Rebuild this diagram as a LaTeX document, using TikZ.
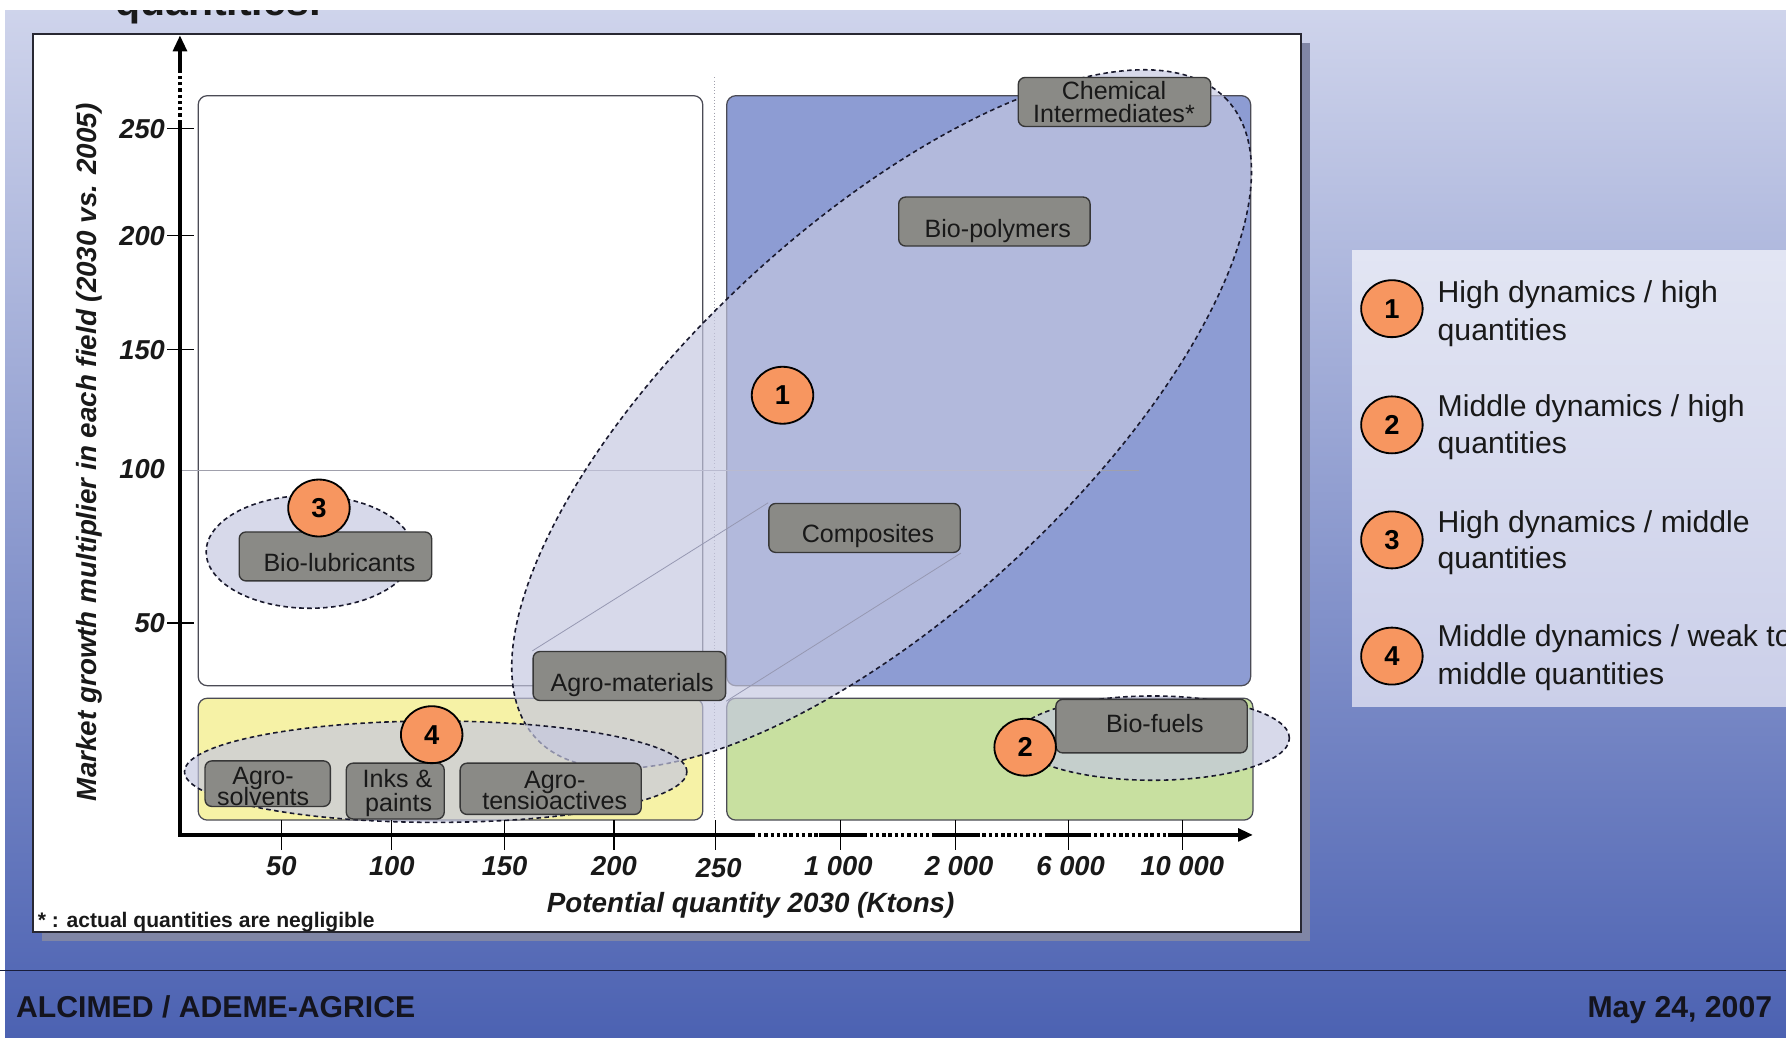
\documentclass[tikz,border=0pt]{standalone}
\usepackage{fontspec}
\setmainfont{Liberation Sans}
\usetikzlibrary{shapes.geometric,arrows.meta,calc}
\definecolor{bgtop}{RGB}{208,213,236}
\definecolor{bgmid}{RGB}{140,154,210}
\definecolor{bgbot}{RGB}{76,98,178}
\definecolor{shadowc}{RGB}{128,134,166}
\definecolor{panelborder}{RGB}{40,40,50}
\definecolor{qblue}{RGB}{141,156,211}
\definecolor{qyellow}{RGB}{246,242,166}
\definecolor{qgreen}{RGB}{200,224,160}
\definecolor{quadline}{RGB}{75,75,85}
\definecolor{gridc}{RGB}{160,160,172}
\definecolor{zonefill}{RGB}{197,199,225}
\definecolor{zoneline}{RGB}{25,25,45}
\definecolor{diagc}{RGB}{150,152,178}
\definecolor{lboxfill}{RGB}{138,138,134}
\definecolor{lboxline}{RGB}{55,55,55}
\definecolor{txtdark}{RGB}{25,25,25}
\definecolor{orangec}{RGB}{247,150,96}
\definecolor{legtop}{RGB}{226,229,243}
\definecolor{legbot}{RGB}{203,207,233}
\definecolor{footc}{RGB}{20,20,30}
\definecolor{footline}{RGB}{25,30,60}
\begin{document}
\begin{tikzpicture}[x=1pt,y=-1pt,
  quad/.style={draw=quadline, line width=1.1pt, rounded corners=8pt},
  zone/.style={ellipse, draw=zoneline, line width=1.4pt, dash pattern=on 4pt off 3pt, fill=zonefill, fill opacity=0.68, inner sep=0pt},
  lbox/.style={draw=lboxline, fill=lboxfill, line width=1.2pt, rounded corners=6pt, inner sep=0pt},
  ltext/.style={font=\fontsize{22}{20}\selectfont, text=txtdark, inner sep=0pt, anchor=base},
  num/.style={ellipse, draw=black, line width=1.6pt, fill=orangec, minimum width=54pt, minimum height=50pt, inner sep=0pt, font=\bfseries\fontsize{24}{24}\selectfont},
  legtext/.style={font=\fontsize{26.5}{30}\selectfont, text=txtdark, inner sep=0pt, anchor=base west},
  axis/.style={line width=3.2pt, black},
  axisdot/.style={line width=3pt, black, dash pattern=on 3pt off 2.5pt},
  tick/.style={line width=1pt, black},
  axnum/.style={font=\bfseries\itshape\fontsize{24}{24}\selectfont, inner sep=0pt, text=txtdark},
  axlab/.style={font=\bfseries\itshape\fontsize{24.4}{26}\selectfont, inner sep=0pt, text=txtdark}
]
\useasboundingbox (0,0) rectangle (1568,911);
\clip (0,0) rectangle (1568,911);
% background
\shade[top color=bgtop, middle color=bgmid, bottom color=bgbot] (0,0) rectangle (1568,911);
% title fragment
\begin{scope}
  \clip (0,0) rectangle (1568,30);
  \node[anchor=base west, inner sep=0pt, font=\bfseries\fontsize{36}{40}\selectfont, text=txtdark] (title) at (101,14) {quantities:};
\end{scope}
\fill[white] (0,0) rectangle (1568,9);
\fill[white] (0,0) rectangle (4,911);
% panel
\fill[shadowc] (37,38) rectangle (1150,826);
\draw[panelborder, fill=white, line width=1.5pt] (29,30) rectangle (1142,818);
% quadrants
\draw[quad, fill=white] (174,84) rectangle (617,602);
\draw[quad, fill=qblue] (638,84) rectangle (1098,602);
\draw[quad, fill=qyellow] (174,613) rectangle (617,720);
\draw[quad, fill=qgreen] (638,613) rectangle (1100,720);
% grid lines
\draw[gridc, line width=0.7pt] (158,413) -- (1000,413);
\draw[gridc, line width=0.8pt, dotted] (627,68) -- (627,720);
% zones
\node[zone, minimum width=826pt, minimum height=340pt, rotate=42.7] (z1) at (774,368) {};
\node[zone, minimum width=182pt, minimum height=99pt] (z3) at (272,484.5) {};
\node[zone, minimum width=441pt, minimum height=89pt] (z4) at (382.5,677.5) {};
\node[zone, minimum width=240pt, minimum height=74pt] (z2) at (1012,648) {};
% label boxes
\node[lbox, minimum width=169pt, minimum height=43pt] (chem) at (978.5,89.5) {};
\node[lbox, minimum width=168pt, minimum height=43pt] (biopoly) at (873,194.5) {};
\node[lbox, minimum width=168pt, minimum height=43pt] (comp) at (759,463.5) {};
\node[lbox, minimum width=169pt, minimum height=43pt] (agro) at (552.5,593.5) {};
\node[lbox, minimum width=169pt, minimum height=43pt] (biolub) at (294.5,488.5) {};
\node[lbox, minimum width=168pt, minimum height=47pt] (biofuel) at (1011,637.5) {};
\node[lbox, minimum width=110pt, minimum height=40pt] (agrosolv) at (235,688) {};
\node[lbox, minimum width=86pt, minimum height=49pt] (inks) at (347,694.5) {};
\node[lbox, minimum width=159pt, minimum height=45pt] (tensio) at (483.5,692.5) {};
% thin links
\draw[diagc, line width=0.7pt] (agro.north west) -- (comp.north west);
\draw[diagc, line width=0.7pt] (agro.south east) -- (comp.south east);
% label texts
\node[ltext] (chem-t1) at (978,87.5) {Chemical};
\node[ltext] (chem-t2) at (978,107.5) {Intermediates*};
\node[ltext] (biopoly-t) at (876,208.5) {Bio-polymers};
\node[ltext] (comp-t) at (762,476.5) {Composites};
\node[ltext] (agro-t) at (555,607.5) {Agro-materials};
\node[ltext] (biolub-t) at (298,501.5) {Bio-lubricants};
\node[ltext] (biofuel-t) at (1014,643.5) {Bio-fuels};
\node[ltext] (agrosolv-t1) at (231,688.5) {Agro-};
\node[ltext] (agrosolv-t2) at (231,707.5) {solvents};
\node[ltext] (inks-t1) at (349,691.5) {Inks \&};
\node[ltext] (inks-t2) at (350,712.5) {paints};
\node[ltext] (tensio-t1) at (487,692.5) {Agro-};
\node[ltext] (tensio-t2) at (487,710.5) {tensioactives};
% numbered markers
\node[num] (n1) at (687,347) {1};
\node[num] (n3) at (280,446) {3};
\node[num] (n4) at (379,645) {4};
\node[num] (n2) at (900,656) {2};
% axes
\draw[axis] (158,734.6) -- (158,108);
\draw[axisdot] (158,108) -- (158,61);
\draw[axis, -{Triangle[length=14pt,width=12pt]}] (158,61) -- (158,31);
\draw[axis] (156.4,733) -- (660,733);
\draw[axisdot] (660,733) -- (719,733);
\draw[axis] (719,733) -- (758,733);
\draw[axisdot] (758,733) -- (820,733);
\draw[axis] (820,733) -- (857,733);
\draw[axisdot] (857,733) -- (917,733);
\draw[axis] (917,733) -- (955,733);
\draw[axisdot] (955,733) -- (1025,733);
\draw[axis, -{Triangle[length=13pt,width=11pt]}] (1025,733) -- (1100,733);
\foreach \xx in {247,344,443,539,628,738,839,938,1038} \draw[tick] (\xx,720) -- (\xx,746);
\foreach \yy in {113,207,307,547} \draw[tick] (147,\yy) -- (170,\yy);
% axis numbers
\node[axnum, anchor=base] (x50) at (247,768.5) {50};
\node[axnum, anchor=base] (x100) at (344,768.5) {100};
\node[axnum, anchor=base] (x150) at (443,768.5) {150};
\node[axnum, anchor=base] (x200) at (539,768.5) {200};
\node[axnum, anchor=base] (x250) at (631,770.5) {250};
\node[axnum, anchor=base] (x1000) at (736,768.5) {1 000};
\node[axnum, anchor=base] (x2000) at (842,768.5) {2 000};
\node[axnum, anchor=base] (x6000) at (940,768.5) {6 000};
\node[axnum, anchor=base] (x10000) at (1038,768.5) {10 000};
\node[axnum, anchor=base east] (y250) at (145,121.5) {250};
\node[axnum, anchor=base east] (y200) at (145,215.5) {200};
\node[axnum, anchor=base east] (y150) at (145,315.5) {150};
\node[axnum, anchor=base east] (y100) at (145,420.5) {100};
\node[axnum, anchor=base east] (y50) at (145,555.5) {50};
\node[axlab, anchor=base] (xlab) at (659,801) {Potential quantity 2030 (Ktons)};
\node[axlab, rotate=90] (ylab) at (78,397) {Market growth multiplier in each field (2030 vs. 2005)};
\node[anchor=base west, inner sep=0pt, font=\bfseries\fontsize{18.5}{20}\selectfont, text=txtdark] (note) at (33,814) {* : actual quantities are negligible};
% legend
\shade[top color=legtop, bottom color=legbot] (1187,220) rectangle (1568,620);
\node[num] (L1) at (1222,271) {1};
\node[num] (L2) at (1222,373) {2};
\node[num] (L3) at (1222,474) {3};
\node[num] (L4) at (1222,576) {4};
\node[legtext] (L1a) at (1262,265.5) {High dynamics / high};
\node[legtext] (L1b) at (1262,298.5) {quantities};
\node[legtext] (L2a) at (1262,365.5) {Middle dynamics / high};
\node[legtext] (L2b) at (1262,398.5) {quantities};
\node[legtext] (L3a) at (1262,467.5) {High dynamics / middle};
\node[legtext] (L3b) at (1262,499.5) {quantities};
\node[legtext] (L4a) at (1262,567.5) {Middle dynamics / weak to};
\node[legtext] (L4b) at (1262,601) {middle quantities};
% footer
\draw[footline, line width=1.5pt] (0,852) -- (1568,852);
\node[anchor=base west, inner sep=0pt, font=\bfseries\fontsize{26.5}{28}\selectfont, text=footc] (foot1) at (14,893) {ALCIMED / ADEME-AGRICE};
\node[anchor=base east, inner sep=0pt, font=\bfseries\fontsize{26.5}{28}\selectfont, text=footc] (foot2) at (1556,893) {May 24, 2007};
\end{tikzpicture}
\end{document}
